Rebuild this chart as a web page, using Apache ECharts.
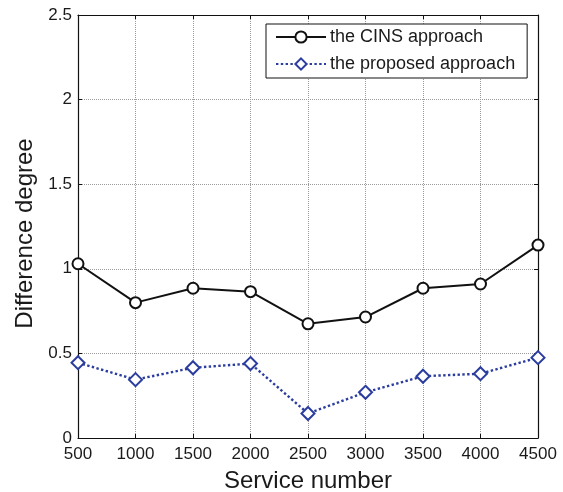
<!DOCTYPE html>
<html>
<head>
<meta charset="utf-8">
<script src="https://cdn.jsdelivr.net/npm/echarts@6/dist/echarts.min.js"></script>
<style>
  html, body { margin: 0; padding: 0; background: #fff; }
  #chart { width: 563px; height: 492px; }
</style>
</head>
<body>
<div id="chart"></div>
<script>
// Service counts on the x axis
const serviceNumbers = [500, 1000, 1500, 2000, 2500, 3000, 3500, 4000, 4500];
// Difference degree for each approach
const cinsValues = [1.03, 0.80, 0.885, 0.865, 0.675, 0.715, 0.885, 0.91, 1.14];
const proposedValues = [0.445, 0.345, 0.415, 0.44, 0.145, 0.27, 0.365, 0.38, 0.475];
const seriesNames = ['the CINS approach', 'the proposed approach'];

const font = 'Liberation Sans, Arial, sans-serif';
const textColor = '#1a1a1a';

const chart = echarts.init(document.getElementById('chart'), null, { renderer: 'canvas' });

const baseX = {
  type: 'value', min: 500, max: 4500, interval: 500,
  axisLine: { show: true, onZero: false, lineStyle: { color: '#111', width: 1.2 } },
  axisTick: { show: true, inside: true, length: 4, lineStyle: { color: '#111' } }
};
const baseY = {
  type: 'value', min: 0, max: 2.5, interval: 0.5,
  axisLine: { show: true, onZero: false, lineStyle: { color: '#111', width: 1.2 } },
  axisTick: { show: true, inside: true, length: 4, lineStyle: { color: '#111' } }
};

chart.setOption({
  animation: false,
  backgroundColor: '#fff',
  grid: { left: 78, right: 25, top: 15, bottom: 54, containLabel: false, outerBoundsMode: 'none' },
  legend: {
    orient: 'vertical',
    left: 266, top: 24,
    backgroundColor: '#fff',
    borderColor: '#111',
    borderWidth: 1,
    padding: [4, 12, 5, 9],
    itemGap: 9,
    itemWidth: 50,
    itemHeight: 14,
    textStyle: { fontFamily: font, fontSize: 18, color: textColor, padding: [0, 0, 0, -1] },
    data: seriesNames
  },
  xAxis: [
    Object.assign({}, baseX, {
      position: 'bottom',
      name: 'Service number', nameLocation: 'middle', nameGap: 31,
      nameTextStyle: { fontFamily: font, fontSize: 24, color: textColor },
      axisLabel: { fontFamily: font, fontSize: 17, color: textColor, margin: 8, formatter: v => String(v) },
      splitLine: { show: true, lineStyle: { color: '#9a9a9a', type: [1, 1], width: 1 } }
    }),
    Object.assign({}, baseX, {
      position: 'top', axisLabel: { show: false }, splitLine: { show: false }
    })
  ],
  yAxis: [
    Object.assign({}, baseY, {
      position: 'left',
      name: 'Difference degree', nameLocation: 'middle', nameGap: 41,
      nameTextStyle: { fontFamily: font, fontSize: 24, color: textColor, padding: [0, 14, 0, 0] },
      axisLabel: { fontFamily: font, fontSize: 17, color: textColor, margin: 6 },
      splitLine: { show: true, lineStyle: { color: '#9a9a9a', type: [1, 1], width: 1 } }
    }),
    Object.assign({}, baseY, {
      position: 'right', axisLabel: { show: false }, splitLine: { show: false }
    })
  ],
  series: [
    {
      name: seriesNames[0],
      type: 'line',
      data: serviceNumbers.map((x, i) => [x, cinsValues[i]]),
      symbol: 'emptyCircle',
      symbolSize: 11,
      itemStyle: { color: '#111', borderColor: '#111', borderWidth: 2 },
      lineStyle: { color: '#111', width: 2 },
      z: 3
    },
    {
      name: seriesNames[1],
      type: 'line',
      data: serviceNumbers.map((x, i) => [x, proposedValues[i]]),
      symbol: 'emptyDiamond',
      symbolSize: 13,
      itemStyle: { color: '#2b3d9e', borderColor: '#2b3d9e', borderWidth: 2.2 },
      lineStyle: { color: '#2b3d9e', width: 2.4, type: [2.4, 2.4] },
      z: 3
    }
  ]
});
</script>
</body>
</html>
